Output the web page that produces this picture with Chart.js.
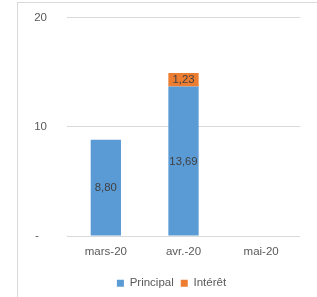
<!DOCTYPE html>
<html><head><meta charset="utf-8">
<script src="https://cdn.jsdelivr.net/npm/chart.js@4/dist/chart.umd.min.js"></script>
<style>
html,body{margin:0;padding:0;background:#fff;width:317px;height:297px;overflow:hidden}
#frame{position:absolute;left:17px;top:2px;width:320px;height:320px;border:1px solid #D9D9D9;box-sizing:border-box}
#wrap{position:absolute;left:0;top:0;width:317px;height:297px}
</style></head><body>
<div id="frame"></div>
<div id="wrap"><canvas id="c" width="317" height="297"></canvas></div>
<script>
const categories = ["mars-20", "avr.-20", "mai-20"];
const principal = [8.80, 13.69, 0];
const interet = [0, 1.23, 0];
const yTicks = [0, 10, 20];

const FONT = "'Liberation Sans', Arial, sans-serif";

const labelPlugin = {
  id: 'valueLabels',
  afterDatasetsDraw(chart) {
    const ctx = chart.ctx;
    ctx.save();
    ctx.font = "11.3px " + FONT;
    ctx.fillStyle = "#404040";
    ctx.textAlign = "center";
    ctx.textBaseline = "middle";
    chart.data.datasets.forEach((ds, di) => {
      const meta = chart.getDatasetMeta(di);
      meta.data.forEach((el, i) => {
        const v = ds.data[i];
        if (!v) return;
        const mid = (el.y + el.base) / 2;
        ctx.fillText(v.toFixed(2).replace('.', ','), el.x, mid + 0.5);
      });
    });
    ctx.restore();
  }
};

const legendShift = {
  id: 'legendShift',
  afterLayout(chart) {
    const L = chart.legend;
    if (!L) return;
    L.left = 43;
    L.top += 2; L.bottom += 2;
    if (L.adjustHitBoxes) L.adjustHitBoxes();
  }
};

new Chart(document.getElementById('c'), {
  type: 'bar',
  data: {
    labels: categories,
    datasets: [
      { label: 'Principal', data: principal, backgroundColor: '#5B9BD5', borderWidth: 0 },
      { label: 'Intérêt', data: interet, backgroundColor: '#ED7D31', borderWidth: 0 }
    ]
  },
  options: {
    responsive: false,
    animation: false,
    devicePixelRatio: 1,
    layout: { padding: { left: 17, right: 17, top: 17.5, bottom: 0 } },
    datasets: { bar: { categoryPercentage: 1, barPercentage: 0.39 } },
    plugins: {
      tooltip: { enabled: false },
      legend: {
        position: 'bottom',
        labels: {
          boxWidth: 7, boxHeight: 7, padding: 7,
          color: '#595959',
          font: { family: FONT, size: 11.5 }
        }
      }
    },
    scales: {
      x: {
        stacked: true,
        grid: { display: false },
        border: { display: false },
        ticks: { color: '#595959', font: { family: FONT, size: 11.5 }, padding: 1, maxRotation: 0 },
        afterFit(scale) { scale.height = 32.5; }
      },
      y: {
        stacked: true,
        min: 0, max: 20,
        afterBuildTicks(scale) { scale.ticks = yTicks.map(v => ({ value: v })); },
        grid: { color: '#D9D9D9', lineWidth: 1, drawTicks: false },
        border: { display: false },
        ticks: {
          color: '#595959', font: { family: FONT, size: 11.5 }, padding: 20,
          callback: v => v === 0 ? '-\u2002\u2009' : String(v)
        },
        afterFit(scale) {
          scale.width = 50;
          scale.paddingTop = 7;
          scale.paddingBottom = 7;
        }
      }
    }
  },
  plugins: [labelPlugin, legendShift]
});
</script>
</body></html>
